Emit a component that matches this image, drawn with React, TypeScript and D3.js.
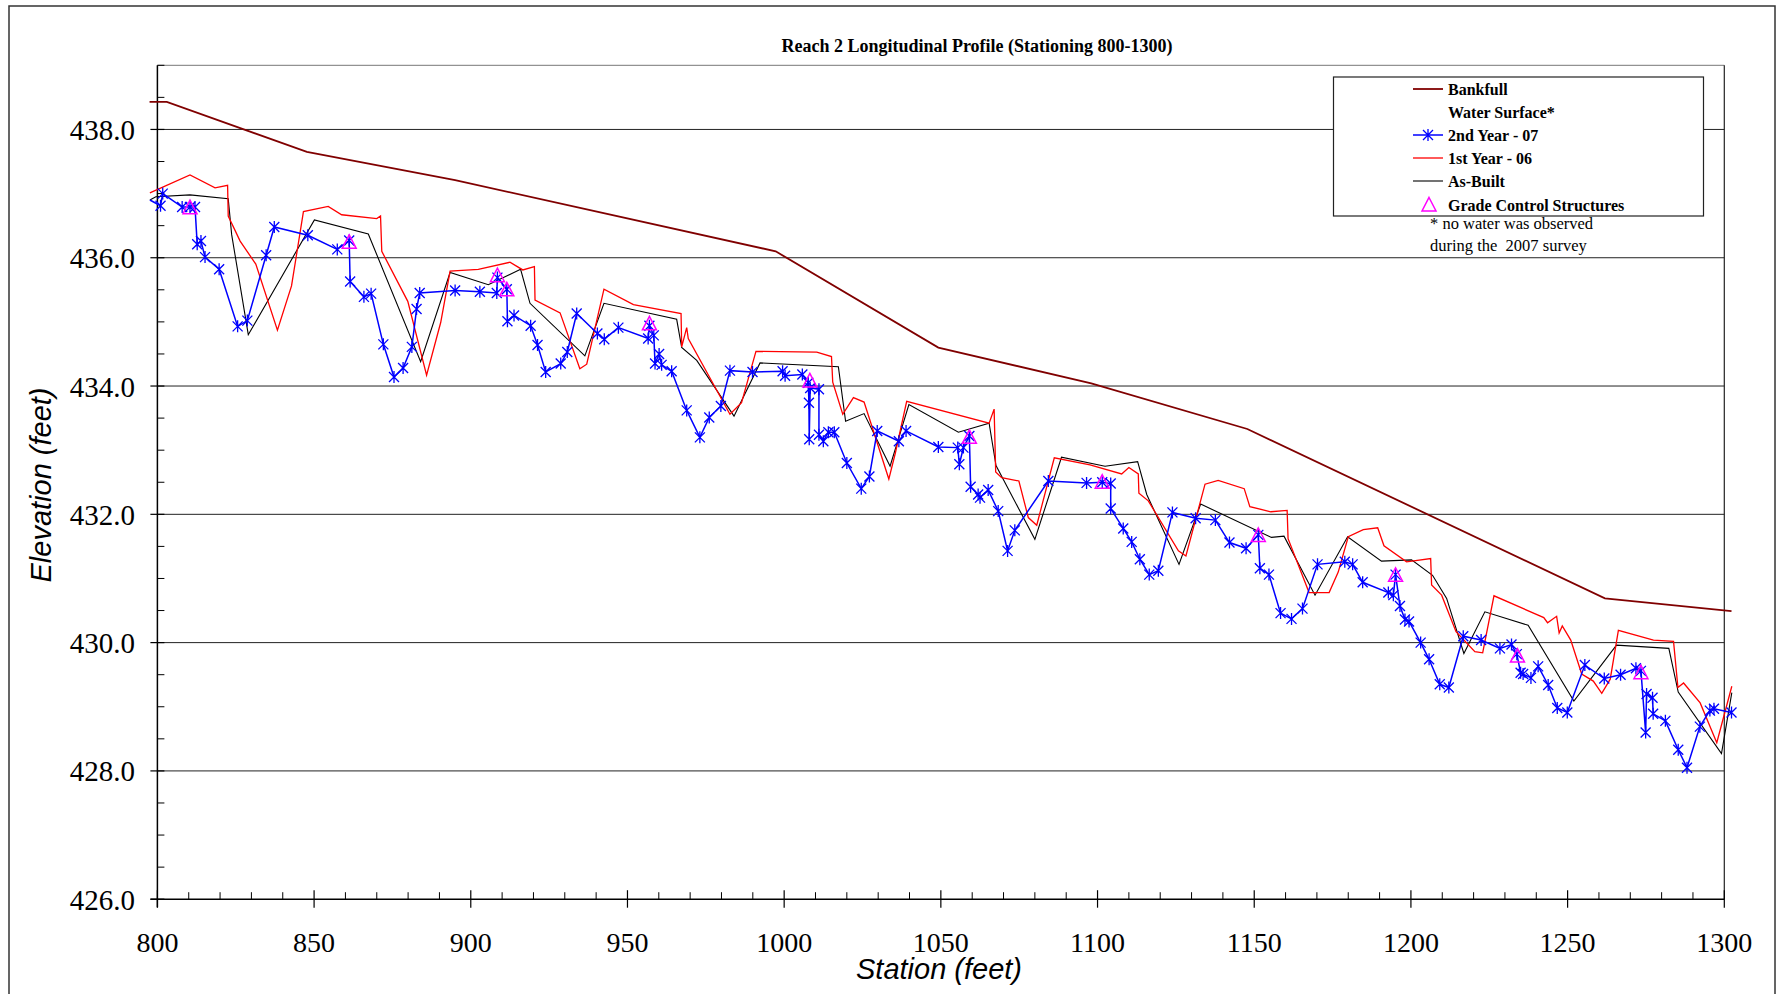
import React from "react";
import * as d3 from "d3";

// ---------- data ----------
const bankfull: [number, number][] = [
  [797.5, 438.43], [803.0, 438.43], [847.7, 437.65], [895.0, 437.21], [997.3, 436.10],
  [1049.2, 434.60], [1098.0, 434.04], [1147.8, 433.33], [1261.9, 430.69], [1302.3, 430.49],
];

const secondYear07: [number, number][] = [
  [797.6, 436.90], [801.0, 436.81], [801.7, 437.00], [807.9, 436.79], [810.4, 436.79], [812.0, 436.79],
  [812.7, 436.21], [813.9, 436.26], [815.2, 436.01], [819.7, 435.82], [825.6, 434.93], [828.7, 435.02],
  [834.7, 436.04], [837.3, 436.48], [848.0, 436.35], [857.4, 436.13], [861.2, 436.27], [861.5, 435.63],
  [865.9, 435.39], [868.2, 435.44], [872.1, 434.65], [875.5, 434.14], [878.4, 434.28], [881.2, 434.61],
  [882.7, 435.20], [883.7, 435.45], [895.0, 435.49], [902.9, 435.47], [908.3, 435.45], [908.5, 435.69],
  [911.5, 435.51], [911.7, 435.01], [913.8, 435.10], [919.1, 434.94], [921.3, 434.64], [923.9, 434.22],
  [928.7, 434.35], [930.8, 434.53], [933.8, 435.13], [940.4, 434.82], [942.6, 434.73], [947.1, 434.91],
  [956.6, 434.74], [957.0, 434.94], [958.4, 434.79], [958.8, 434.35], [960.1, 434.50], [960.9, 434.33],
  [964.1, 434.23], [968.9, 433.62], [973.1, 433.20], [976.1, 433.51], [979.8, 433.69], [982.7, 434.24],
  [989.9, 434.22], [999.5, 434.23], [1000.3, 434.16], [1005.8, 434.18], [1007.7, 434.05], [1007.9, 433.74],
  [1008.0, 433.17], [1008.3, 433.97], [1011.1, 433.95], [1011.1, 433.24], [1012.5, 433.14], [1014.1, 433.28],
  [1016.0, 433.28], [1020.0, 432.80], [1024.6, 432.40], [1027.2, 432.59], [1029.7, 433.30], [1036.6, 433.14],
  [1038.9, 433.30], [1049.2, 433.05], [1055.4, 433.04], [1055.9, 432.78], [1057.2, 433.04], [1059.1, 433.22],
  [1059.5, 432.43], [1061.9, 432.31], [1062.5, 432.26], [1065.1, 432.38], [1068.3, 432.05], [1071.3, 431.43],
  [1073.6, 431.75], [1084.3, 432.52], [1096.5, 432.49], [1101.5, 432.50], [1104.2, 432.48], [1104.2, 432.09],
  [1108.2, 431.78], [1110.9, 431.57], [1113.5, 431.30], [1116.5, 431.06], [1119.4, 431.12], [1123.9, 432.03],
  [1131.3, 431.94], [1137.6, 431.91], [1142.1, 431.56], [1147.4, 431.47], [1151.3, 431.68], [1151.8, 431.16],
  [1154.7, 431.06], [1158.4, 430.46], [1161.9, 430.37], [1165.4, 430.53], [1170.2, 431.22], [1178.9, 431.26],
  [1181.4, 431.22], [1184.6, 430.94], [1192.8, 430.78], [1194.4, 430.74], [1195.1, 431.06], [1196.5, 430.57],
  [1198.1, 430.36], [1199.4, 430.33], [1203.1, 430.00], [1205.8, 429.74], [1209.2, 429.35], [1212.1, 429.30],
  [1216.7, 430.10], [1222.4, 430.04], [1228.4, 429.91], [1232.1, 429.97], [1233.8, 429.82], [1235.0, 429.53],
  [1235.8, 429.51], [1238.3, 429.45], [1240.6, 429.63], [1243.8, 429.34], [1246.7, 428.98], [1249.9, 428.91],
  [1255.5, 429.65], [1261.7, 429.44], [1266.9, 429.50], [1271.8, 429.60], [1273.4, 429.56], [1274.9, 428.60],
  [1275.2, 429.20], [1277.1, 429.14], [1277.3, 428.89], [1281.2, 428.78], [1285.3, 428.33], [1288.1, 428.05],
  [1292.2, 428.69], [1295.4, 428.94], [1296.7, 428.97], [1302.3, 428.91],
];

const firstYear06: [number, number][] = [
  [797.6, 437.01], [810.4, 437.29], [818.4, 437.09], [822.4, 437.13], [822.6, 436.65], [826.4, 436.26],
  [831.4, 435.90], [838.3, 434.87], [842.8, 435.56], [846.6, 436.72], [854.5, 436.80], [858.8, 436.67],
  [870.0, 436.61], [871.2, 436.65], [871.6, 436.10], [879.9, 435.32], [885.9, 434.17], [890.4, 434.99],
  [893.4, 435.79], [902.4, 435.82], [912.5, 435.93], [916.6, 435.81], [920.3, 435.86], [920.5, 435.34],
  [928.5, 435.14], [934.8, 434.27], [937.0, 434.34], [942.5, 435.51], [951.9, 435.27], [967.1, 435.13],
  [967.3, 434.61], [968.9, 434.91], [969.4, 434.74], [982.7, 433.56], [986.4, 433.74], [991.0, 434.54],
  [1010.4, 434.53], [1015.1, 434.46], [1015.5, 434.06], [1018.7, 433.56], [1022.1, 433.82], [1025.5, 433.75],
  [1033.4, 432.55], [1035.5, 432.96], [1039.1, 433.76], [1065.4, 433.42], [1067.0, 433.64], [1067.5, 432.66],
  [1069.4, 432.57], [1074.9, 432.52], [1077.9, 431.95], [1080.6, 431.83], [1086.2, 432.88], [1097.6, 432.77],
  [1107.7, 432.63], [1110.0, 432.73], [1113.0, 432.63], [1113.2, 432.33], [1116.2, 432.21], [1125.8, 431.43],
  [1128.2, 431.35], [1134.3, 432.47], [1138.5, 432.53], [1146.8, 432.40], [1148.6, 432.12], [1155.3, 432.04],
  [1160.5, 432.06], [1160.8, 431.62], [1167.5, 430.78], [1173.9, 430.78], [1176.8, 431.10], [1180.0, 431.65],
  [1184.8, 431.76], [1189.4, 431.79], [1191.4, 431.51], [1198.6, 431.26], [1206.3, 431.31], [1206.6, 430.90],
  [1209.8, 430.74], [1214.4, 430.17], [1220.4, 429.86], [1222.9, 429.84], [1226.5, 430.73], [1242.4, 430.39],
  [1243.6, 430.31], [1246.5, 430.41], [1247.3, 430.15], [1248.3, 430.26], [1251.0, 430.04], [1254.5, 429.51],
  [1258.2, 429.40], [1260.9, 429.21], [1263.6, 429.43], [1266.2, 430.19], [1277.4, 430.04], [1283.8, 430.02],
  [1285.2, 429.30], [1287.0, 429.37], [1292.3, 429.06], [1297.6, 428.44], [1302.4, 429.32],
];

const asBuilt: [number, number][] = [
  [797.6, 436.90], [799.5, 436.95], [810.4, 436.98], [822.6, 436.92], [823.7, 436.36], [829.0, 434.80],
  [850.1, 436.59], [867.3, 436.37], [884.0, 434.38], [893.4, 435.77], [905.6, 435.58], [915.9, 435.82],
  [918.9, 435.29], [936.4, 434.47], [942.5, 435.29], [965.7, 435.04], [967.3, 434.60], [972.1, 434.40],
  [984.0, 433.53], [992.3, 434.36], [1017.3, 434.30], [1019.6, 433.45], [1025.5, 433.57], [1033.8, 432.75],
  [1039.8, 433.71], [1055.6, 433.28], [1065.4, 433.42], [1067.6, 432.76], [1080.0, 431.61], [1088.5, 432.89],
  [1102.4, 432.75], [1112.8, 432.82], [1115.7, 432.31], [1126.0, 431.22], [1132.9, 432.16], [1155.5, 431.64],
  [1159.5, 431.66], [1169.4, 430.74], [1179.8, 431.65], [1190.6, 431.27], [1200.2, 431.29], [1206.9, 431.05],
  [1211.4, 430.69], [1216.9, 429.83], [1223.6, 430.48], [1237.4, 430.27], [1252.0, 429.09], [1265.6, 429.96],
  [1282.3, 429.91], [1285.3, 429.23], [1299.1, 428.27], [1302.4, 429.22],
];

const gradeControl: [number, number][] = [
  [810.4, 436.78], [861.2, 436.24], [908.5, 435.72], [911.5, 435.50], [957.0, 434.97], [1008.2, 434.08],
  [1059.1, 433.20], [1101.5, 432.50], [1151.3, 431.67], [1195.1, 431.05], [1234.0, 429.79], [1273.4, 429.53],
];

const xMajorTicks = [800, 850, 900, 950, 1000, 1050, 1100, 1150, 1200, 1250, 1300];
const yMajorTicks = [426, 428, 430, 432, 434, 436, 438];
const gridValues = [428, 430, 432, 434, 436, 438];

const title = "Reach 2 Longitudinal Profile (Stationing 800-1300)";
const xTitle = "Station (feet)";
const yTitle = "Elevation (feet)";
const legendItems = ["Bankfull", "Water Surface*", "2nd Year - 07", "1st Year - 06", "As-Built", "Grade Control Structures"];
const noteLines = ["* no water was observed", "during the  2007 survey"];

// ---------- layout ----------
const W = 1783;
const H = 994;
const left = 157.4;
const right = 1724.3;
const bottom = 899.2;
const top = 65.3;

const serif = "'Liberation Serif', 'Times New Roman', serif";
const sans = "'Liberation Sans', Arial, sans-serif";

export default function App() {
  const x = d3.scaleLinear().domain([800, 1300]).range([left, right]);
  const y = d3.scaleLinear().domain([426, 439]).range([bottom, top]);
  const line = d3.line<[number, number]>().x((d) => x(d[0])).y((d) => y(d[1]));

  const xMinor = d3.range(800, 1301, 10).filter((v) => v % 50 !== 0);
  const yMinor = d3.range(426, 439.01, 0.5).filter((v) => Math.abs(v % 2) > 0.01);

  const star = "M-5,-5L5,5M-5,5L5,-5M0,-6L0,6";
  const tri = "M0,-7.5L7,6L-7,6Z";

  const legX1 = 1413;
  const legX2 = 1443;
  const legText = 1448;
  const legRows = [89, 112, 135, 158, 181, 205];

  return (
    <svg
      width={W}
      height={H}
      style={{ position: "absolute", left: 0, top: 0, display: "block", background: "#fff" }}
    >
      <rect x={0} y={0} width={W} height={H} fill="#fff" />
      <rect x={9} y={6} width={1766} height={1010} fill="none" stroke="#333" strokeWidth={1.5} />

      {/* title */}
      <text x={977} y={51.5} textAnchor="middle" fontFamily={serif} fontWeight="bold" fontSize={18}>
        {title}
      </text>

      {/* plot frame */}
      <line x1={left} x2={right} y1={top} y2={top} stroke="#777" strokeWidth={1} />
      <line x1={right} x2={right} y1={top} y2={bottom} stroke="#222" strokeWidth={1.2} />

      {/* gridlines */}
      {gridValues.map((v) => (
        <line key={"g" + v} x1={left} x2={right} y1={y(v)} y2={y(v)} stroke="#222" strokeWidth={1} />
      ))}

      {/* axes */}
      <line x1={left} x2={left} y1={top} y2={bottom + 8} stroke="#000" strokeWidth={1.5} />
      <line x1={left - 7} x2={right} y1={bottom} y2={bottom} stroke="#000" strokeWidth={1.5} />

      {yMajorTicks.map((v) => (
        <g key={"ym" + v}>
          <line x1={left - 7} x2={left + 7} y1={y(v)} y2={y(v)} stroke="#000" strokeWidth={1.2} />
          <text x={135} y={y(v) + 10.5} textAnchor="end" fontFamily={serif} fontSize={29}>
            {d3.format(".1f")(v)}
          </text>
        </g>
      ))}
      {yMinor.map((v) => (
        <line key={"yn" + v} x1={left} x2={left + 7} y1={y(v)} y2={y(v)} stroke="#000" strokeWidth={1} />
      ))}

      {xMajorTicks.map((v) => (
        <g key={"xm" + v}>
          <line x1={x(v)} x2={x(v)} y1={bottom - 9} y2={bottom + 8.5} stroke="#000" strokeWidth={1.2} />
          <text x={x(v)} y={952} textAnchor="middle" fontFamily={serif} fontSize={28}>
            {v}
          </text>
        </g>
      ))}
      {xMinor.map((v) => (
        <line key={"xn" + v} x1={x(v)} x2={x(v)} y1={bottom - 7} y2={bottom} stroke="#000" strokeWidth={1} />
      ))}

      {/* axis titles */}
      <text x={939} y={979} textAnchor="middle" fontFamily={sans} fontStyle="italic" fontSize={29}>
        {xTitle}
      </text>
      <text
        transform="translate(51,485) rotate(-90)"
        textAnchor="middle"
        fontFamily={sans}
        fontStyle="italic"
        fontSize={29}
      >
        {yTitle}
      </text>

      {/* series */}
      <path d={line(bankfull) || ""} fill="none" stroke="#800000" strokeWidth={1.8} />
      <path d={line(asBuilt) || ""} fill="none" stroke="#000" strokeWidth={1.1} />
      <path d={line(firstYear06) || ""} fill="none" stroke="#ff0000" strokeWidth={1.3} />
      <path d={line(secondYear07) || ""} fill="none" stroke="#0000ff" strokeWidth={1.5} />
      {secondYear07.slice(1).map((d, i) => (
        <path
          key={"s" + i}
          d={star}
          transform={`translate(${x(d[0])},${y(d[1])})`}
          fill="none"
          stroke="#0000ff"
          strokeWidth={1.3}
        />
      ))}
      {gradeControl.map((d, i) => (
        <path
          key={"t" + i}
          d={tri}
          transform={`translate(${x(d[0])},${y(d[1])})`}
          fill="none"
          stroke="#ff00ff"
          strokeWidth={1.5}
        />
      ))}

      {/* legend */}
      <rect x={1333.5} y={77} width={370} height={139} fill="#fff" stroke="#222" strokeWidth={1.2} />
      <line x1={legX1} x2={legX2} y1={legRows[0]} y2={legRows[0]} stroke="#800000" strokeWidth={1.8} />
      <line x1={legX1} x2={legX2} y1={legRows[2]} y2={legRows[2]} stroke="#0000ff" strokeWidth={1.5} />
      <path d={star} transform={`translate(${(legX1 + legX2) / 2},${legRows[2]})`} fill="none" stroke="#0000ff" strokeWidth={1.3} />
      <line x1={legX1} x2={legX2} y1={legRows[3]} y2={legRows[3]} stroke="#ff0000" strokeWidth={1.3} />
      <line x1={legX1} x2={legX2} y1={legRows[4]} y2={legRows[4]} stroke="#000" strokeWidth={1.1} />
      <path d={tri} transform={`translate(1429,${legRows[5]})`} fill="none" stroke="#ff00ff" strokeWidth={1.5} />
      {legendItems.map((t, i) => (
        <text key={"l" + i} x={legText} y={legRows[i] + 5.5} fontFamily={serif} fontWeight="bold" fontSize={16}>
          {t}
        </text>
      ))}
      {noteLines.map((t, i) => (
        <text
          key={"n" + i}
          x={1430}
          y={229 + i * 21.5}
          fontFamily={serif}
          fontSize={16.5}
          xmlSpace="preserve"
          style={{ whiteSpace: "pre" }}
        >
          {t}
        </text>
      ))}
    </svg>
  );
}
